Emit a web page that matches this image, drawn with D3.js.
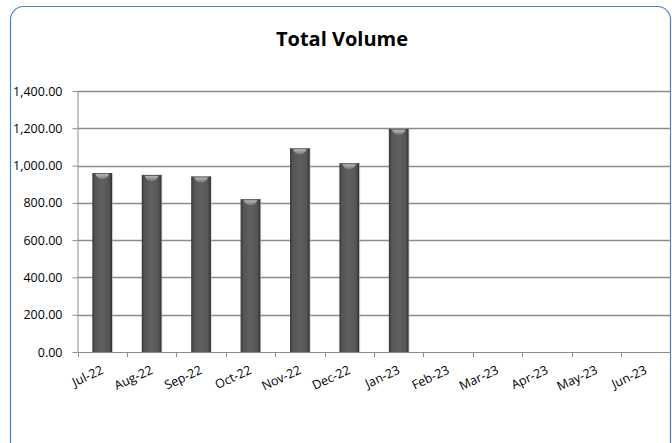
<!DOCTYPE html>
<html>
<head>
  <meta charset="utf-8">
  <script src="https://cdn.jsdelivr.net/npm/d3@7"></script>
  <style>
    body {margin:0; background:#fff;}
    svg text {font-family: "Open Sans", sans-serif;}
  </style>
</head>
<body>
<script>
const months = ["Jul-22","Aug-22","Sep-22","Oct-22","Nov-22","Dec-22","Jan-23","Feb-23","Mar-23","Apr-23","May-23","Jun-23"];
const volumes = [960, 950, 942, 820, 1093, 1013, 1197, null, null, null, null, null];
const yTicks = [0, 200, 400, 600, 800, 1000, 1200, 1400];

const width = 672, height = 443;
const plot = {left: 77.5, right: 670.5, top: 91, bottom: 352};

const svg = d3.select("body").append("svg")
  .attr("width", width).attr("height", height);

// chart frame
svg.append("rect")
  .attr("x", 10.5).attr("y", 6.5)
  .attr("width", 660).attr("height", 460)
  .attr("rx", 13)
  .attr("fill", "#fff")
  .attr("stroke", "#4f81bd")
  .attr("stroke-width", 1.2);

const defs = svg.append("defs");
const grad = defs.append("linearGradient").attr("id", "barGrad")
  .attr("x1", 0).attr("x2", 1).attr("y1", 0).attr("y2", 0);
grad.append("stop").attr("offset", "0%").attr("stop-color", "#3a3a3a");
grad.append("stop").attr("offset", "15%").attr("stop-color", "#555");
grad.append("stop").attr("offset", "50%").attr("stop-color", "#606060");
grad.append("stop").attr("offset", "85%").attr("stop-color", "#555");
grad.append("stop").attr("offset", "100%").attr("stop-color", "#2e2e2e");

const capGrad = defs.append("linearGradient").attr("id", "capGrad")
  .attr("x1", 0).attr("x2", 0).attr("y1", 0).attr("y2", 1);
capGrad.append("stop").attr("offset", "0%").attr("stop-color", "#b8b8b8");
capGrad.append("stop").attr("offset", "100%").attr("stop-color", "#777");

const x = d3.scaleBand().domain(months)
  .range([plot.left, plot.right]).paddingInner(0).paddingOuter(0);
const y = d3.scaleLinear().domain([0, 1400]).range([plot.bottom, plot.top]);

// gridlines
svg.append("g")
  .selectAll("line").data(yTicks.slice(1)).join("line")
  .attr("x1", plot.left).attr("x2", plot.right)
  .attr("y1", d => Math.round(y(d)) + 0.5).attr("y2", d => Math.round(y(d)) + 0.5)
  .attr("stroke", "#8c8c8c").attr("stroke-width", 1.3);

// y axis
const yAxis = svg.append("g")
  .attr("transform", `translate(${plot.left},0)`)
  .call(d3.axisLeft(y).tickValues(yTicks).tickSize(5).tickSizeOuter(0)
    .tickFormat(d3.format(",.2f")));
yAxis.select(".domain").attr("stroke", "#8c8c8c");
yAxis.selectAll(".tick line").attr("stroke", "#8c8c8c");
yAxis.selectAll(".tick text").attr("font-size", 12.5).attr("fill", "#000").attr("x", -15);

// bars
const bw = x.bandwidth() * 0.4;
const data = months.map((m, i) => ({m, v: volumes[i]})).filter(d => d.v != null);
const bars = svg.append("g").selectAll("g").data(data).join("g");
bars.append("rect")
  .attr("x", d => x(d.m) + (x.bandwidth() - bw) / 2 + 1)
  .attr("y", d => y(d.v))
  .attr("width", bw)
  .attr("height", d => y(0) - y(d.v))
  .attr("fill", "#bbb").attr("opacity", 0.5);
bars.append("rect")
  .attr("x", d => x(d.m) + (x.bandwidth() - bw) / 2)
  .attr("y", d => y(d.v))
  .attr("width", bw)
  .attr("height", d => y(0) - y(d.v))
  .attr("fill", "url(#barGrad)");
bars.append("path")
  .attr("d", d => {
    const x0 = x(d.m) + (x.bandwidth() - bw) / 2 + 3, x1 = x0 + bw - 6, t = y(d.v) + 1;
    return `M${x0},${t} L${x1},${t} Q${x1 - 2},${t + 5} ${(x0 + x1) / 2},${t + 5} Q${x0 + 2},${t + 5} ${x0},${t} Z`;
  })
  .attr("fill", "url(#capGrad)");

// x axis
const xAxis = svg.append("g")
  .attr("transform", `translate(0,${plot.bottom})`)
  .call(d3.axisBottom(x).tickSize(0).tickSizeOuter(0));
xAxis.select(".domain").attr("stroke", "#8c8c8c");
xAxis.selectAll(".tick text")
  .attr("font-size", 12.5).attr("fill", "#000")
  .attr("text-anchor", "end")
  .attr("transform", "translate(2,21) rotate(-25)")
  .attr("dy", 0).attr("y", 0);
svg.append("g").selectAll("line").data(months).join("line")
  .attr("x1", d => Math.round(x(d)) + 0.5).attr("x2", d => Math.round(x(d)) + 0.5)
  .attr("y1", plot.bottom).attr("y2", plot.bottom + 5)
  .attr("stroke", "#8c8c8c");

// title
svg.append("text")
  .attr("x", 342).attr("y", 46)
  .attr("text-anchor", "middle")
  .attr("font-size", 20).attr("font-weight", "bold")
  .text("Total Volume");
</script>
</body>
</html>
